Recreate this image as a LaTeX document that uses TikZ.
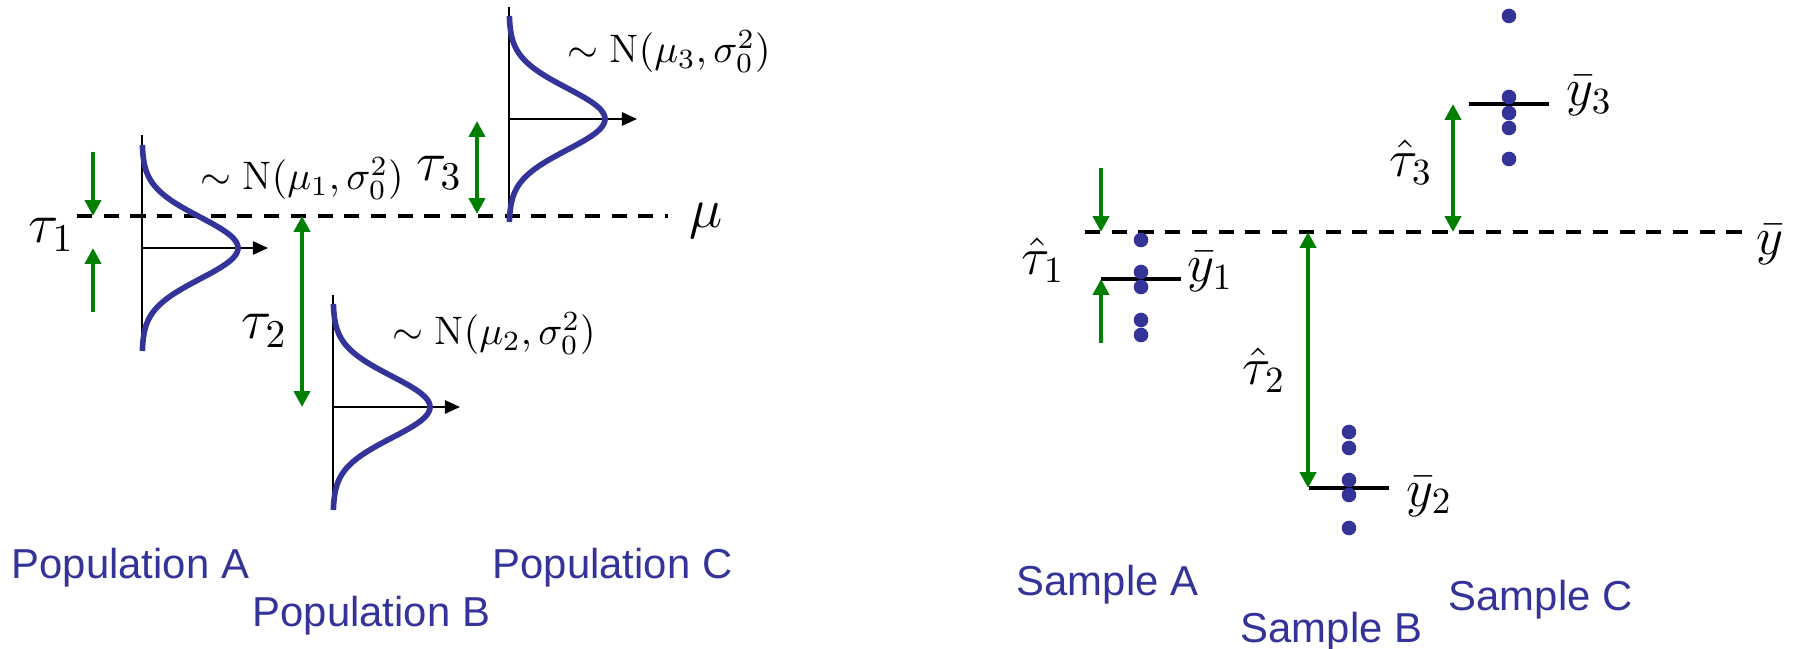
\RequirePackage{fix-cm}
\documentclass[tikz,border=0pt]{standalone}
\usepackage{fontspec}
\newfontfamily\arialfont{Liberation Sans}
\usetikzlibrary{arrows.meta}
\definecolor{popblue}{RGB}{51,51,153}
\definecolor{arrgreen}{RGB}{0,128,0}
\begin{document}
\begin{tikzpicture}[x=0.01cm,y=-0.01cm,
  mathlbl/.style={inner sep=0pt, anchor=base west, font=\fontsize{15}{18}\selectfont},
  taulbl/.style={inner sep=0pt, anchor=base west, font=\fontsize{16}{19}\selectfont},
  nlbl/.style={inner sep=0pt, anchor=base west, font=\fontsize{11.3}{14}\selectfont},
  grouplbl/.style={inner sep=0pt, anchor=base west, text=popblue, font=\arialfont\fontsize{11.9}{14}\selectfont},
  dist/.style={draw=popblue, line width=1.6pt, line join=round},
  axisline/.style={line width=0.55pt},
  meanarrow/.style={line width=0.55pt, -{Triangle[length=4.3pt,width=3.8pt]}},
  refline/.style={line width=1.15pt, dash pattern=on 4.3pt off 3.3pt},
  gap/.style={draw=arrgreen, line width=1.15pt, -{Triangle[length=4.5pt,width=4.5pt]}},
  gapboth/.style={draw=arrgreen, line width=1.15pt, {Triangle[length=4.5pt,width=4.5pt]}-{Triangle[length=4.5pt,width=4.5pt]}},
  dot/.style={circle, fill=popblue, inner sep=0pt, minimum size=0.146cm},
  barline/.style={line width=1pt},
]
\useasboundingbox (0,0) rectangle (1800,649);

% ---------------- Left: populations ----------------
\coordinate (muL) at (77,216); \coordinate (muR) at (668,216);
\draw[refline] (muL) -- (muR);
\node[taulbl] (mu) at (689,228) {$\mu$};

% Population A
\coordinate (axA1) at (142,135); \coordinate (axA2) at (142,350);
\draw[axisline] (axA1) -- (axA2);
\coordinate (pkA) at (142,248); \coordinate (arA) at (268,248);
\draw[meanarrow] (pkA) -- (arA);
\draw[dist] plot[domain=-103:103, samples=90, variable=\t] ({142+96*exp(-(\t*\t)/1900)}, {248+\t});

% Population B
\coordinate (axB1) at (333,295); \coordinate (axB2) at (333,503);
\draw[axisline] (axB1) -- (axB2);
\coordinate (pkB) at (333,407); \coordinate (arB) at (460,407);
\draw[meanarrow] (pkB) -- (arB);
\draw[dist] plot[domain=-103:103, samples=90, variable=\t] ({333+97*exp(-(\t*\t)/1900)}, {407+\t});

% Population C
\coordinate (axC1) at (509,7); \coordinate (axC2) at (509,216);
\draw[axisline] (axC1) -- (axC2);
\coordinate (pkC) at (509,119); \coordinate (arC) at (637,119);
\draw[meanarrow] (pkC) -- (arC);
\draw[dist] plot[domain=-103:103, samples=90, variable=\t] ({509+96*exp(-(\t*\t)/1900)}, {119+\t});

% tau arrows
\coordinate (t1a) at (93,152); \coordinate (t1b) at (93,216);
\draw[gap] (t1a) -- (t1b);
\coordinate (t1c) at (93,312); \coordinate (t1d) at (93,248);
\draw[gap] (t1c) -- (t1d);
\coordinate (t2a) at (302,216); \coordinate (t2b) at (302,407);
\draw[gapboth] (t2a) -- (t2b);
\coordinate (t3a) at (477,121); \coordinate (t3b) at (477,214);
\draw[gapboth] (t3a) -- (t3b);

\node[taulbl] (tau1) at (28,243) {$\tau_1$};
\node[taulbl] (tau2) at (241,339) {$\tau_2$};
\node[taulbl] (tau3) at (416,181) {$\tau_3$};

\node[nlbl] (nA) at (200,190) {$\sim \mathrm{N}(\mu_1,\sigma_0^2)$};
\node[nlbl] (nB) at (392,345) {$\sim \mathrm{N}(\mu_2,\sigma_0^2)$};
\node[nlbl] (nC) at (567,63) {$\sim \mathrm{N}(\mu_3,\sigma_0^2)$};

\node[grouplbl] (popA) at (11,578) {Population A};
\node[grouplbl] (popB) at (252,626) {Population B};
\node[grouplbl] (popC) at (492,578) {Population C};

% ---------------- Right: samples ----------------
\coordinate (ybL) at (1085,232); \coordinate (ybR) at (1742,232);
\draw[refline] (ybL) -- (ybR);
\node[mathlbl] (ybar) at (1756,255) {$\bar{y}$};

% sample means
\coordinate (m1a) at (1101,279); \coordinate (m1b) at (1181,279);
\draw[barline] (m1a) -- (m1b);
\coordinate (m2a) at (1309,488); \coordinate (m2b) at (1389,488);
\draw[barline] (m2a) -- (m2b);
\coordinate (m3a) at (1469,104); \coordinate (m3b) at (1549,104);
\draw[barline] (m3a) -- (m3b);

% dots
\node[dot] (a1) at (1141,240) {};
\node[dot] (a2) at (1141,272) {};
\node[dot] (a3) at (1141,287) {};
\node[dot] (a4) at (1141,320) {};
\node[dot] (a5) at (1141,335) {};
\node[dot] (b1) at (1349,432) {};
\node[dot] (b2) at (1349,448) {};
\node[dot] (b3) at (1349,480) {};
\node[dot] (b4) at (1349,495) {};
\node[dot] (b5) at (1349,528) {};
\node[dot] (c1) at (1509,16) {};
\node[dot] (c2) at (1509,97) {};
\node[dot] (c3) at (1509,113) {};
\node[dot] (c4) at (1509,128) {};
\node[dot] (c5) at (1509,159) {};

% tau-hat arrows
\coordinate (h1a) at (1101,168); \coordinate (h1b) at (1101,232);
\draw[gap] (h1a) -- (h1b);
\coordinate (h1c) at (1101,343); \coordinate (h1d) at (1101,279);
\draw[gap] (h1c) -- (h1d);
\coordinate (h2a) at (1308,232); \coordinate (h2b) at (1308,488);
\draw[gapboth] (h2a) -- (h2b);
\coordinate (h3a) at (1453,104); \coordinate (h3b) at (1453,232);
\draw[gapboth] (h3a) -- (h3b);

\node[mathlbl] (th1) at (1021,275) {$\hat{\tau}_1$};
\node[mathlbl] (th2) at (1242,385) {$\hat{\tau}_2$};
\node[mathlbl] (th3) at (1389,177) {$\hat{\tau}_3$};

\node[mathlbl] (yb1) at (1187,282) {$\bar{y}_1$};
\node[mathlbl] (yb2) at (1406,506) {$\bar{y}_2$};
\node[mathlbl] (yb3) at (1566,106) {$\bar{y}_3$};

\node[grouplbl] (samA) at (1016,595) {Sample A};
\node[grouplbl] (samB) at (1240,642) {Sample B};
\node[grouplbl] (samC) at (1448,610) {Sample C};
\end{tikzpicture}
\end{document}
